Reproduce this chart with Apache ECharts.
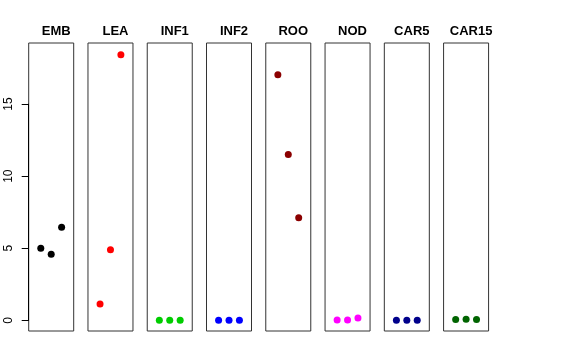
<!DOCTYPE html>
<html><head><meta charset="utf-8">
<script src="https://cdn.jsdelivr.net/npm/echarts@6/dist/echarts.min.js"></script>
<style>html,body{margin:0;padding:0;background:#fff}#c{width:576px;height:360px}</style>
</head><body><div id="c"></div>
<script>
const panels = ["EMB","LEA","INF1","INF2","ROO","NOD","CAR5","CAR15"];
const colors = ["#000000","#ff0000","#00cd00","#0000ff","#8b0000","#ff00ff","#00008b","#006400"];
const xs = [1,2,3];
const EMB = [5.0,4.58,6.45];
const LEA = [1.13,4.9,18.43];
const INF1 = [0,0,0];
const INF2 = [0,0,0];
const ROO = [17.04,11.51,7.12];
const NOD = [0.02,0.02,0.16];
const CAR5 = [0,0,0];
const CAR15 = [0.06,0.08,0.05];
const yTicks = [0,5,10,15];
const values = [EMB,LEA,INF1,INF2,ROO,NOD,CAR5,CAR15];

(function(){
const chart = echarts.init(document.getElementById('c'), null, {renderer:'canvas'});
const left0 = 28.7, step = 59.27, w = 45, gTop = 43, gBottom = 331;
const ymin = -0.74, ymax = 19.24;
const grid = [], xAxis = [], yAxis = [], series = [], title = [];
panels.forEach((p,i)=>{
  const l = left0 + step*i;
  grid.push({left:l, top:gTop, width:w, height:gBottom-gTop, show:true, borderColor:'#333', borderWidth:1, backgroundColor:'transparent'});
  xAxis.push({gridIndex:i, type:'value', min:-0.16, max:4.16, show:false});
  yAxis.push({gridIndex:i, type:'value', min:ymin, max:ymax, show:false});
  series.push({type:'scatter', xAxisIndex:i, yAxisIndex:i, symbolSize:7, itemStyle:{color:colors[i], opacity:1},
    data: xs.map((x,k)=>[x, values[i][k]]), silent:true});
  title.push({text:p, left:l + w/2, top:20, textAlign:'center',
    textStyle:{fontFamily:'Liberation Sans, Arial, sans-serif', fontWeight:'bold', fontSize:13, color:'#000'}});
});
const pxPerUnit = (gBottom-gTop)/(ymax-ymin);
const y0 = gBottom - (0-ymin)*pxPerUnit;
const y15 = y0 - 15*pxPerUnit;
grid.push({left:left0, top:y15, width:1, height:y0-y15, show:false});
xAxis.push({gridIndex:8, type:'value', show:false, min:0, max:1});
yAxis.push({gridIndex:8, type:'value', min:0, max:15, interval:5, position:'left',
  axisLine:{show:true, lineStyle:{color:'#000', width:1}},
  axisTick:{show:true, length:7, lineStyle:{color:'#000'}},
  splitLine:{show:false},
  axisLabel:{rotate:90, margin:14, fontSize:12, color:'#000', fontFamily:'Liberation Sans, Arial, sans-serif',
    formatter: v => yTicks.includes(v) ? String(v) : ''}
});
chart.setOption({animation:false, title, grid, xAxis, yAxis, series});
})();
</script></body></html>
